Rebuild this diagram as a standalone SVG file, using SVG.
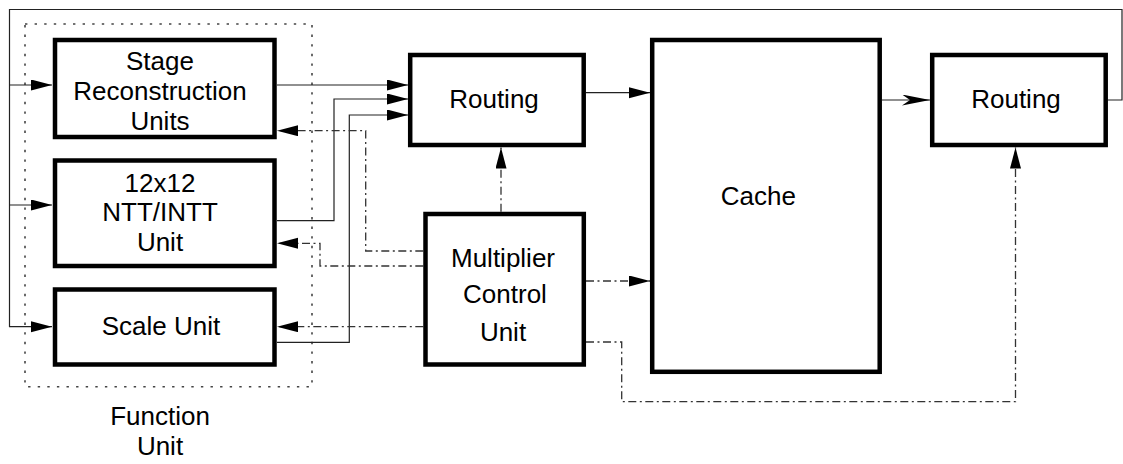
<svg xmlns="http://www.w3.org/2000/svg" width="1123" height="464" viewBox="0 0 1123 464">
<style>
.box{fill:#fff;stroke:#000;stroke-width:4.5}
.lbl{font-family:"Liberation Sans",Arial,sans-serif;font-size:26px;fill:#000;text-anchor:middle}
.w{fill:none;stroke:#222;stroke-width:1.2}
.dd{fill:none;stroke:#333;stroke-width:1.3;stroke-dasharray:8 3.5 2 3.5}
.dot{fill:none;stroke:#444;stroke-width:1.6;stroke-dasharray:2.4 7.2}
</style>
<defs>
<marker id="arr" markerUnits="userSpaceOnUse" markerWidth="22" markerHeight="12" refX="21" refY="5.5" orient="auto">
<path d="M0,0 L21,5.5 L0,11 z" fill="#000"/>
</marker>
<marker id="stl" markerUnits="userSpaceOnUse" markerWidth="30" markerHeight="12" refX="28" refY="5.5" orient="auto">
<path d="M0,0 L28,5.5 L0,11 L8,5.5 z" fill="#000"/>
</marker>
</defs>
<rect id="function-unit-frame" class="dot" x="25" y="24" width="287" height="362.7"/>
<g id="connectors">
<path class="w" d="M1108,100 H1122 V9.5 H9.5 V326.7 H52" marker-end="url(#arr)"/>
<path class="w" d="M9.5,85 H52" marker-end="url(#arr)"/>
<path class="w" d="M9.5,205 H52" marker-end="url(#arr)"/>
<path class="w" d="M277,85 H408" marker-end="url(#arr)"/>
<path class="w" d="M277,220.7 H334 V99 H408" marker-end="url(#arr)"/>
<path class="w" d="M277,342.3 H349.3 V115 H408" marker-end="url(#arr)"/>
<path class="w" d="M586,92.7 H650" marker-end="url(#arr)"/>
<path class="w" d="M882,100 H930" marker-end="url(#stl)"/>
<path class="dd" d="M501,211.7 V147.5" marker-end="url(#arr)"/>
<path class="dd" d="M423.3,251 H365.7 V130.7 H277" marker-end="url(#arr)"/>
<path class="dd" d="M423.3,266 H320 V243.3 H277" marker-end="url(#arr)"/>
<path class="dd" d="M423.3,326.7 H277" marker-end="url(#arr)"/>
<path class="dd" d="M586,281 H650" marker-end="url(#arr)"/>
<path class="dd" d="M586,342 H621.7 V401.7 H1015.5 V147.5" marker-end="url(#arr)"/>
</g>
<g id="stage">
<rect class="box" x="55" y="40" width="219.5" height="97"/>
<text class="lbl" x="160" y="70">Stage</text>
<text class="lbl" x="160" y="100">Reconstruction</text>
<text class="lbl" x="160" y="129.5">Units</text>
</g>
<g id="ntt">
<rect class="box" x="55" y="160.5" width="219.5" height="105.5"/>
<text class="lbl" x="160" y="192">12x12</text>
<text class="lbl" x="160" y="221">NTT/INTT</text>
<text class="lbl" x="160" y="250.5">Unit</text>
</g>
<g id="scale">
<rect class="box" x="55" y="289.5" width="219.5" height="75"/>
<text class="lbl" x="161" y="335">Scale Unit</text>
</g>
<g id="function-unit-label">
<text class="lbl" x="160" y="425">Function</text>
<text class="lbl" x="160" y="455">Unit</text>
</g>
<g id="routing1">
<rect class="box" x="410.2" y="55" width="173.5" height="90"/>
<text class="lbl" x="494" y="108.3">Routing</text>
</g>
<g id="mcu">
<rect class="box" x="425.5" y="214" width="158.3" height="150.5"/>
<text class="lbl" x="503" y="266.7">Multiplier</text>
<text class="lbl" x="505" y="303.3">Control</text>
<text class="lbl" x="503" y="340.7">Unit</text>
</g>
<g id="cache">
<rect class="box" x="652.2" y="40" width="227.5" height="331.8"/>
<text class="lbl" x="758.3" y="205">Cache</text>
</g>
<g id="routing2">
<rect class="box" x="932.2" y="55" width="173.5" height="90"/>
<text class="lbl" x="1016" y="108.3">Routing</text>
</g>
</svg>
